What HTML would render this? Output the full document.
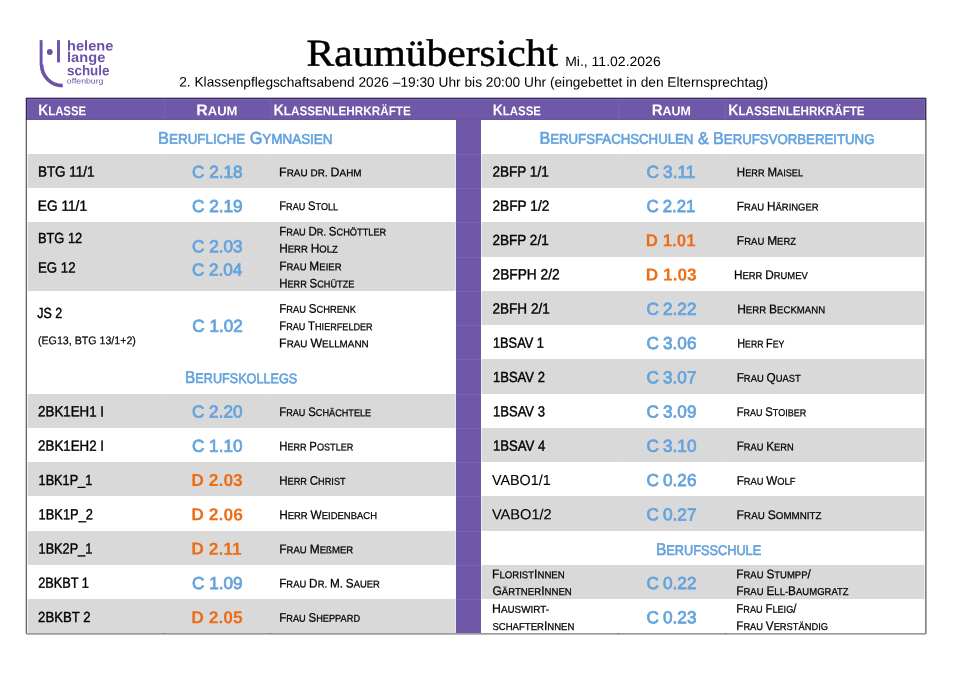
<!DOCTYPE html>
<html lang="de"><head><meta charset="utf-8"><title>Raumübersicht</title><style>
html,body{margin:0;padding:0;background:#fff;}
body{width:960px;height:679px;position:relative;overflow:hidden;font-family:"Liberation Sans",sans-serif;text-rendering:geometricPrecision;}
.b{position:absolute;}
.t{position:absolute;white-space:nowrap;line-height:1;color:#000;transform-origin:0 50%;}
.w,.w0{display:inline-block;text-transform:uppercase;font-size:0.82em;line-height:1;}
.w::first-letter{font-size:1.2195em;}
.k{text-transform:none;}
.h{color:#fff;font-weight:bold;}
.s{color:#64a3dd;-webkit-text-stroke:0.65px #64a3dd;}
.r{-webkit-text-stroke:0.75px currentColor;}
.ro{font-weight:bold;-webkit-text-stroke:0;}
.n{-webkit-text-stroke:0.25px #000;word-spacing:-0.5px;}
.n .w,.n .w0{font-size:0.8em;}
.n .w::first-letter{font-size:1.25em;}
.c{-webkit-text-stroke:0.4px #000;}
.cl{-webkit-text-stroke:0.1px #000;}
.cs{-webkit-text-stroke:0.2px #000;}
.ti{font-family:"Liberation Serif",serif;-webkit-text-stroke:0.5px #000;}
.lg{color:#6b53a8;font-weight:bold;}
.lg2{color:#6b53a8;}
</style></head><body>
<div class="b" style="left:26.00px;top:98.00px;width:900.00px;height:536.00px;background:#fff;"></div>
<div class="b" style="left:26.00px;top:98.00px;width:900.00px;height:21.50px;background:#7058a8;"></div>
<div class="b" style="left:456.00px;top:98.00px;width:25.00px;height:536.00px;background:#7058a8;"></div>
<div class="b" style="left:26.00px;top:153.77px;width:430.00px;height:34.27px;background:#d9d9d9;"></div>
<div class="b" style="left:26.00px;top:222.31px;width:430.00px;height:68.54px;background:#d9d9d9;"></div>
<div class="b" style="left:26.00px;top:393.66px;width:430.00px;height:34.27px;background:#d9d9d9;"></div>
<div class="b" style="left:26.00px;top:462.20px;width:430.00px;height:34.27px;background:#d9d9d9;"></div>
<div class="b" style="left:26.00px;top:530.74px;width:430.00px;height:34.27px;background:#d9d9d9;"></div>
<div class="b" style="left:26.00px;top:599.28px;width:430.00px;height:34.27px;background:#d9d9d9;"></div>
<div class="b" style="left:481.00px;top:153.77px;width:445.00px;height:34.27px;background:#d9d9d9;"></div>
<div class="b" style="left:481.00px;top:222.31px;width:445.00px;height:34.27px;background:#d9d9d9;"></div>
<div class="b" style="left:481.00px;top:290.85px;width:445.00px;height:34.27px;background:#d9d9d9;"></div>
<div class="b" style="left:481.00px;top:359.39px;width:445.00px;height:34.27px;background:#d9d9d9;"></div>
<div class="b" style="left:481.00px;top:427.93px;width:445.00px;height:34.27px;background:#d9d9d9;"></div>
<div class="b" style="left:481.00px;top:496.47px;width:445.00px;height:34.27px;background:#d9d9d9;"></div>
<div class="b" style="left:481.00px;top:565.01px;width:445.00px;height:34.27px;background:#d9d9d9;"></div>
<div class="b" style="left:163.50px;top:119.50px;width:1.00px;height:514.50px;background:rgba(255,255,255,0.09);"></div>
<div class="b" style="left:163.50px;top:98.00px;width:1.00px;height:21.50px;background:rgba(255,255,255,0.07);"></div>
<div class="b" style="left:270.00px;top:119.50px;width:1.00px;height:514.50px;background:rgba(255,255,255,0.09);"></div>
<div class="b" style="left:270.00px;top:98.00px;width:1.00px;height:21.50px;background:rgba(255,255,255,0.07);"></div>
<div class="b" style="left:617.50px;top:119.50px;width:1.00px;height:514.50px;background:rgba(255,255,255,0.09);"></div>
<div class="b" style="left:617.50px;top:98.00px;width:1.00px;height:21.50px;background:rgba(255,255,255,0.07);"></div>
<div class="b" style="left:724.50px;top:119.50px;width:1.00px;height:514.50px;background:rgba(255,255,255,0.09);"></div>
<div class="b" style="left:724.50px;top:98.00px;width:1.00px;height:21.50px;background:rgba(255,255,255,0.07);"></div>
<div class="b" style="left:456.00px;top:153.77px;width:25.00px;height:1.00px;background:rgba(255,255,255,0.08);"></div>
<div class="b" style="left:456.00px;top:188.04px;width:25.00px;height:1.00px;background:rgba(255,255,255,0.08);"></div>
<div class="b" style="left:456.00px;top:222.31px;width:25.00px;height:1.00px;background:rgba(255,255,255,0.08);"></div>
<div class="b" style="left:456.00px;top:256.58px;width:25.00px;height:1.00px;background:rgba(255,255,255,0.08);"></div>
<div class="b" style="left:456.00px;top:290.85px;width:25.00px;height:1.00px;background:rgba(255,255,255,0.08);"></div>
<div class="b" style="left:456.00px;top:325.12px;width:25.00px;height:1.00px;background:rgba(255,255,255,0.08);"></div>
<div class="b" style="left:456.00px;top:359.39px;width:25.00px;height:1.00px;background:rgba(255,255,255,0.08);"></div>
<div class="b" style="left:456.00px;top:393.66px;width:25.00px;height:1.00px;background:rgba(255,255,255,0.08);"></div>
<div class="b" style="left:456.00px;top:427.93px;width:25.00px;height:1.00px;background:rgba(255,255,255,0.08);"></div>
<div class="b" style="left:456.00px;top:462.20px;width:25.00px;height:1.00px;background:rgba(255,255,255,0.08);"></div>
<div class="b" style="left:456.00px;top:496.47px;width:25.00px;height:1.00px;background:rgba(255,255,255,0.08);"></div>
<div class="b" style="left:456.00px;top:530.74px;width:25.00px;height:1.00px;background:rgba(255,255,255,0.08);"></div>
<div class="b" style="left:456.00px;top:565.01px;width:25.00px;height:1.00px;background:rgba(255,255,255,0.08);"></div>
<div class="b" style="left:456.00px;top:599.28px;width:25.00px;height:1.00px;background:rgba(255,255,255,0.08);"></div>
<div class="b" style="left:481.00px;top:119.50px;width:1.00px;height:514.50px;background:rgba(255,255,255,0.55);"></div>
<div class="b" style="left:455.00px;top:119.50px;width:1.00px;height:514.50px;background:rgba(255,255,255,0.35);"></div>
<div class="b" style="left:26.00px;top:97.00px;width:900.00px;height:1.00px;background:#b9b9bd;"></div>
<div class="b" style="left:26.00px;top:98.00px;width:900.00px;height:1.00px;background:#3a2e66;"></div>
<div class="b" style="left:26.00px;top:99.00px;width:900.00px;height:1.00px;background:#7a64b6;"></div>
<div class="b" style="left:26.00px;top:118.50px;width:900.00px;height:1.00px;background:#6a53a2;"></div>
<div class="b" style="left:26.00px;top:98.00px;width:1.00px;height:536.00px;background:#6a6a6a;"></div>
<div class="b" style="left:25.00px;top:98.00px;width:1.00px;height:536.00px;background:#cacaca;"></div>
<div class="b" style="left:27.00px;top:119.50px;width:1.00px;height:513.50px;background:rgba(255,255,255,0.6);"></div>
<div class="b" style="left:26.00px;top:98.00px;width:1.00px;height:21.50px;background:#2c2352;"></div>
<div class="b" style="left:925.00px;top:98.00px;width:1.00px;height:536.00px;background:#858585;"></div>
<div class="b" style="left:924.00px;top:119.50px;width:1.00px;height:513.50px;background:rgba(255,255,255,0.5);"></div>
<div class="b" style="left:925.00px;top:98.00px;width:1.00px;height:21.50px;background:#3a2e66;"></div>
<div class="b" style="left:924.00px;top:99.00px;width:1.00px;height:19.50px;background:#7a64b6;"></div>
<div class="b" style="left:27.00px;top:99.00px;width:1.00px;height:19.50px;background:#7a64b6;"></div>
<div class="b" style="left:926.00px;top:98.00px;width:1.00px;height:536.00px;background:#ababab;"></div>
<div class="b" style="left:26.00px;top:633.00px;width:900.00px;height:1.00px;background:#9c9c9c;"></div>
<div class="b" style="left:26.00px;top:634.00px;width:900.00px;height:1.00px;background:#b8b8b8;"></div>
<div class="b" style="left:163.50px;top:633.00px;width:1.00px;height:1.00px;background:#6a6a6a;"></div>
<div class="b" style="left:270.00px;top:633.00px;width:1.00px;height:1.00px;background:#6a6a6a;"></div>
<div class="b" style="left:617.50px;top:633.00px;width:1.00px;height:1.00px;background:#6a6a6a;"></div>
<div class="b" style="left:724.50px;top:633.00px;width:1.00px;height:1.00px;background:#6a6a6a;"></div>
<div class="t h" style="left:38px;top:103px;font-size:15.6px;transform:matrix(0.8905,0.0005,0,1,0.16,0.20);"><span class="w">Klasse</span></div>
<div class="t h" style="left:196px;top:103px;font-size:15.6px;transform:matrix(1.0188,0.0005,0,1,0.32,0.20);"><span class="w">Raum</span></div>
<div class="t h" style="left:273px;top:103px;font-size:15.6px;transform:matrix(0.9176,0.0005,0,1,0.43,0.20);"><span class="w">Klassenlehrkräfte</span></div>
<div class="t h" style="left:492px;top:103px;font-size:15.6px;transform:matrix(0.8962,0.0005,0,1,0.65,0.20);"><span class="w">Klasse</span></div>
<div class="t h" style="left:651px;top:103px;font-size:15.6px;transform:matrix(0.9720,0.0005,0,1,0.67,0.20);"><span class="w">Raum</span></div>
<div class="t h" style="left:728px;top:103px;font-size:15.6px;transform:matrix(0.9108,0.0005,0,1,0.24,0.20);"><span class="w">Klassenlehrkräfte</span></div>
<div class="t s" style="left:158px;top:129px;font-size:17.1px;transform:matrix(0.9574,0.0005,0,1,0.12,0.80);"><span class="w">Berufliche</span> <span class="w">Gymnasien</span></div>
<div class="t s" style="left:185px;top:369px;font-size:17.1px;transform:matrix(0.9012,0.0005,0,1,0.08,0.10);"><span class="w">Berufskollegs</span></div>
<div class="t s" style="left:539px;top:129px;font-size:17.1px;transform:matrix(0.9430,0.0005,0,1,0.44,0.80);"><span class="w">Berufsfachschulen</span> <span class="f">&amp;</span> <span class="w">Berufsvorbereitung</span></div>
<div class="t s" style="left:655px;top:541px;font-size:17.1px;transform:matrix(0.9089,0.0005,0,1,0.97,0.00);"><span class="w">Berufsschule</span></div>
<div class="t c" style="left:37px;top:165px;font-size:14.6px;transform:matrix(0.9243,0.0005,0,1,0.88,0.46);">BTG 11/1</div>
<div class="t c" style="left:37px;top:199px;font-size:14.6px;transform:matrix(0.9366,0.0005,0,1,0.87,0.73);">EG 11/1</div>
<div class="t c" style="left:37px;top:232px;font-size:14.6px;transform:matrix(0.8809,0.0005,0,1,0.93,0.10);">BTG 12</div>
<div class="t c" style="left:37px;top:261px;font-size:14.6px;transform:matrix(0.9093,0.0005,0,1,0.90,0.50);">EG 12</div>
<div class="t c" style="left:37px;top:307px;font-size:14.6px;transform:matrix(0.8552,0.0005,0,1,0.31,0.10);">JS 2</div>
<div class="t c cs" style="left:37px;top:336px;font-size:11.2px;transform:matrix(0.9517,0.0005,0,1,0.95,0.30);">(EG13, BTG 13/1+2)</div>
<div class="t c" style="left:38px;top:405px;font-size:14.6px;transform:matrix(0.9134,0.0005,0,1,0.11,0.35);">2BK1EH1 I</div>
<div class="t c" style="left:38px;top:439px;font-size:14.6px;transform:matrix(0.9134,0.0005,0,1,0.11,0.62);">2BK1EH2 I</div>
<div class="t c" style="left:38px;top:473px;font-size:14.6px;transform:matrix(0.8701,0.0005,0,1,0.57,0.88);">1BK1P_1</div>
<div class="t c" style="left:38px;top:508px;font-size:14.6px;transform:matrix(0.8821,0.0005,0,1,0.56,0.15);">1BK1P_2</div>
<div class="t c" style="left:38px;top:542px;font-size:14.6px;transform:matrix(0.8701,0.0005,0,1,0.57,0.42);">1BK2P_1</div>
<div class="t c" style="left:38px;top:576px;font-size:14.6px;transform:matrix(0.8736,0.0005,0,1,0.13,0.69);">2BKBT 1</div>
<div class="t c" style="left:38px;top:610px;font-size:14.6px;transform:matrix(0.9001,0.0005,0,1,0.12,0.96);">2BKBT 2</div>
<div class="t r" style="left:191px;top:163px;font-size:17.3px;transform:matrix(0.9934,0.0005,0,1,0.99,0.65);color:#64a3dd;">C 2.18</div>
<div class="t r" style="left:191px;top:197px;font-size:17.3px;transform:matrix(0.9947,0.0005,0,1,0.99,0.93);color:#64a3dd;">C 2.19</div>
<div class="t r" style="left:191px;top:238px;font-size:17.3px;transform:matrix(0.9934,0.0005,0,1,0.99,0.25);color:#64a3dd;">C 2.03</div>
<div class="t r" style="left:191px;top:261px;font-size:17.3px;transform:matrix(0.9860,0.0005,0,1,0.99,0.55);color:#64a3dd;">C 2.04</div>
<div class="t r" style="left:192px;top:317px;font-size:17.3px;transform:matrix(0.9892,0.0005,0,1,0.29,0.85);color:#64a3dd;">C 1.02</div>
<div class="t r" style="left:191px;top:403px;font-size:17.3px;transform:matrix(0.9911,0.0005,0,1,0.99,0.55);color:#64a3dd;">C 2.20</div>
<div class="t r" style="left:191px;top:437px;font-size:17.3px;transform:matrix(0.9911,0.0005,0,1,0.99,0.82);color:#64a3dd;">C 1.10</div>
<div class="t r ro" style="left:191px;top:472px;font-size:17.3px;transform:matrix(1.0122,0.0005,0,1,0.31,0.09);color:#ee6c14;">D 2.03</div>
<div class="t r ro" style="left:191px;top:506px;font-size:17.3px;transform:matrix(1.0127,0.0005,0,1,0.31,0.36);color:#ee6c14;">D 2.06</div>
<div class="t r ro" style="left:191px;top:540px;font-size:17.3px;transform:matrix(1.0084,0.0005,0,1,0.31,0.62);color:#ee6c14;">D 2.11</div>
<div class="t r" style="left:191px;top:574px;font-size:17.3px;transform:matrix(0.9947,0.0005,0,1,0.99,0.89);color:#64a3dd;">C 1.09</div>
<div class="t r ro" style="left:191px;top:609px;font-size:17.3px;transform:matrix(1.0101,0.0005,0,1,0.31,0.16);color:#ee6c14;">D 2.05</div>
<div class="t n" style="left:279px;top:166px;font-size:12.5px;transform:matrix(0.9911,0.0005,0,1,0.10,0.20);"><span class="w">Frau</span> <span class="w0">dr.</span> <span class="w">Dahm</span></div>
<div class="t n" style="left:279px;top:200px;font-size:12.5px;transform:matrix(0.9060,0.0005,0,1,0.18,0.10);"><span class="w">Frau</span> <span class="w">Stoll</span></div>
<div class="t n" style="left:279px;top:225px;font-size:12.5px;transform:matrix(0.9229,0.0005,0,1,0.16,0.50);"><span class="w">Frau</span> <span class="w">Dr.</span> <span class="w">Schöttler</span></div>
<div class="t n" style="left:279px;top:242px;font-size:12.5px;transform:matrix(0.9530,0.0005,0,1,0.14,0.60);"><span class="w">Herr</span> <span class="w">Holz</span></div>
<div class="t n" style="left:279px;top:260px;font-size:12.5px;transform:matrix(0.9519,0.0005,0,1,0.14,0.30);"><span class="w">Frau</span> <span class="w">Meier</span></div>
<div class="t n" style="left:279px;top:277px;font-size:12.5px;transform:matrix(0.9173,0.0005,0,1,0.17,0.40);"><span class="w">Herr</span> <span class="w">Schütze</span></div>
<div class="t n" style="left:279px;top:302px;font-size:12.5px;transform:matrix(0.9333,0.0005,0,1,0.16,0.80);"><span class="w">Frau</span> <span class="w">Schrenk</span></div>
<div class="t n" style="left:279px;top:320px;font-size:12.5px;transform:matrix(0.9100,0.0005,0,1,0.18,0.10);"><span class="w">Frau</span> <span class="w">Thierfelder</span></div>
<div class="t n" style="left:279px;top:337px;font-size:12.5px;transform:matrix(0.9862,0.0005,0,1,0.11,0.20);"><span class="w">Frau</span> <span class="w">Wellmann</span></div>
<div class="t n" style="left:279px;top:406px;font-size:12.5px;transform:matrix(0.9145,0.0005,0,1,0.17,0.10);"><span class="w">Frau</span> <span class="w">Schächtele</span></div>
<div class="t n" style="left:279px;top:440px;font-size:12.5px;transform:matrix(0.9104,0.0005,0,1,0.18,0.37);"><span class="w">Herr</span> <span class="w">Postler</span></div>
<div class="t n" style="left:279px;top:474px;font-size:12.5px;transform:matrix(0.9217,0.0005,0,1,0.17,0.63);"><span class="w">Herr</span> <span class="w">Christ</span></div>
<div class="t n" style="left:279px;top:508px;font-size:12.5px;transform:matrix(0.9474,0.0005,0,1,0.14,0.90);"><span class="w">Herr</span> <span class="w">Weidenbach</span></div>
<div class="t n" style="left:279px;top:543px;font-size:12.5px;transform:matrix(0.9606,0.0005,0,1,0.13,0.17);"><span class="w">Frau</span> <span class="w">Me<span class="k">ß</span>mer</span></div>
<div class="t n" style="left:279px;top:577px;font-size:12.5px;transform:matrix(0.9438,0.0005,0,1,0.14,0.44);"><span class="w">Frau</span> <span class="w">Dr.</span> <span class="f">M.</span> <span class="w">Sauer</span></div>
<div class="t n" style="left:279px;top:611px;font-size:12.5px;transform:matrix(0.9224,0.0005,0,1,0.17,0.71);"><span class="w">Frau</span> <span class="w">Sheppard</span></div>
<div class="t c" style="left:492px;top:165px;font-size:14.6px;transform:matrix(0.9275,0.0005,0,1,0.50,0.46);">2BFP 1/1</div>
<div class="t r" style="left:646px;top:163px;font-size:17.3px;transform:matrix(0.9957,0.0005,0,1,0.48,0.65);color:#64a3dd;word-spacing:-0.6px;">C 3.11</div>
<div class="t n" style="left:736px;top:166px;font-size:12.5px;transform:matrix(0.9212,0.0005,0,1,0.87,0.21);"><span class="w">Herr</span> <span class="w">Maisel</span></div>
<div class="t c" style="left:492px;top:199px;font-size:14.6px;transform:matrix(0.9378,0.0005,0,1,0.50,0.73);">2BFP 1/2</div>
<div class="t r" style="left:646px;top:197px;font-size:17.3px;transform:matrix(0.9724,0.0005,0,1,0.50,0.93);color:#64a3dd;word-spacing:-0.6px;">C 2.21</div>
<div class="t n" style="left:736px;top:200px;font-size:12.5px;transform:matrix(0.9473,0.0005,0,1,0.84,0.48);"><span class="w">Frau</span> <span class="w">Häringer</span></div>
<div class="t c" style="left:492px;top:233px;font-size:14.6px;transform:matrix(0.9275,0.0005,0,1,0.50,1.00);">2BFP 2/1</div>
<div class="t r ro" style="left:645px;top:232px;font-size:17.3px;transform:matrix(0.9757,0.0005,0,1,0.85,0.19);color:#ee6c14;">D 1.01</div>
<div class="t n" style="left:736px;top:234px;font-size:12.5px;transform:matrix(0.9544,0.0005,0,1,0.84,0.75);"><span class="w">Frau</span> <span class="w">Merz</span></div>
<div class="t c" style="left:492px;top:268px;font-size:14.6px;transform:matrix(0.9407,0.0005,0,1,0.50,0.27);">2BFPH 2/2</div>
<div class="t r ro" style="left:645px;top:266px;font-size:17.3px;transform:matrix(0.9999,0.0005,0,1,0.82,0.47);color:#ee6c14;">D 1.03</div>
<div class="t n" style="left:733px;top:269px;font-size:12.5px;transform:matrix(0.9425,0.0005,0,1,0.95,0.02);"><span class="w">Herr</span> <span class="w">Drumev</span></div>
<div class="t c" style="left:492px;top:302px;font-size:14.6px;transform:matrix(0.9287,0.0005,0,1,0.50,0.54);">2BFH 2/1</div>
<div class="t r" style="left:646px;top:300px;font-size:17.3px;transform:matrix(0.9928,0.0005,0,1,0.49,0.74);color:#64a3dd;word-spacing:-0.6px;">C 2.22</div>
<div class="t n" style="left:737px;top:303px;font-size:12.5px;transform:matrix(0.9619,0.0005,0,1,0.13,0.29);"><span class="w">Herr</span> <span class="w">Beckmann</span></div>
<div class="t c" style="left:492px;top:336px;font-size:14.6px;transform:matrix(0.8764,0.0005,0,1,0.97,0.81);">1BSAV 1</div>
<div class="t r" style="left:646px;top:335px;font-size:17.3px;transform:matrix(0.9930,0.0005,0,1,0.49,0.00);color:#64a3dd;word-spacing:-0.6px;">C 3.06</div>
<div class="t n" style="left:737px;top:337px;font-size:12.5px;transform:matrix(0.8704,0.0005,0,1,0.21,0.56);"><span class="w">Herr</span> <span class="w">Fey</span></div>
<div class="t c" style="left:492px;top:371px;font-size:14.6px;transform:matrix(0.8944,0.0005,0,1,0.95,0.08);">1BSAV 2</div>
<div class="t r" style="left:646px;top:369px;font-size:17.3px;transform:matrix(0.9925,0.0005,0,1,0.49,0.27);color:#64a3dd;word-spacing:-0.6px;">C 3.07</div>
<div class="t n" style="left:736px;top:371px;font-size:12.5px;transform:matrix(0.9405,0.0005,0,1,0.65,0.83);"><span class="w">Frau</span> <span class="w">Quast</span></div>
<div class="t c" style="left:492px;top:405px;font-size:14.6px;transform:matrix(0.8946,0.0005,0,1,0.95,0.35);">1BSAV 3</div>
<div class="t r" style="left:646px;top:403px;font-size:17.3px;transform:matrix(0.9931,0.0005,0,1,0.49,0.55);color:#64a3dd;word-spacing:-0.6px;">C 3.09</div>
<div class="t n" style="left:736px;top:406px;font-size:12.5px;transform:matrix(0.9012,0.0005,0,1,0.69,0.10);"><span class="w">Frau</span> <span class="w">Stoiber</span></div>
<div class="t c" style="left:492px;top:439px;font-size:14.6px;transform:matrix(0.9005,0.0005,0,1,0.94,0.62);">1BSAV 4</div>
<div class="t r" style="left:646px;top:437px;font-size:17.3px;transform:matrix(0.9924,0.0005,0,1,0.49,0.82);color:#64a3dd;word-spacing:-0.6px;">C 3.10</div>
<div class="t n" style="left:736px;top:440px;font-size:12.5px;transform:matrix(0.9337,0.0005,0,1,0.66,0.37);"><span class="w">Frau</span> <span class="w">Kern</span></div>
<div class="t c cl" style="left:491px;top:473px;font-size:14.6px;transform:matrix(0.9840,0.0005,0,1,0.91,0.88);">VABO1/1</div>
<div class="t r" style="left:646px;top:472px;font-size:17.3px;transform:matrix(0.9930,0.0005,0,1,0.49,0.09);color:#64a3dd;word-spacing:-0.6px;">C 0.26</div>
<div class="t n" style="left:736px;top:474px;font-size:12.5px;transform:matrix(0.9343,0.0005,0,1,0.65,0.63);"><span class="w">Frau</span> <span class="w">Wolf</span></div>
<div class="t c cl" style="left:491px;top:508px;font-size:14.6px;transform:matrix(1.0016,0.0005,0,1,0.90,0.15);">VABO1/2</div>
<div class="t r" style="left:646px;top:506px;font-size:17.3px;transform:matrix(0.9925,0.0005,0,1,0.49,0.36);color:#64a3dd;word-spacing:-0.6px;">C 0.27</div>
<div class="t n" style="left:736px;top:508px;font-size:12.5px;transform:matrix(0.9776,0.0005,0,1,0.62,0.90);"><span class="w">Frau</span> <span class="w">Sommnitz</span></div>
<div class="t n" style="left:492px;top:568px;font-size:12.5px;transform:matrix(0.9618,0.0005,0,1,0.03,0.25);"><span class="w">Florist</span><span class="w">Innen</span></div>
<div class="t n" style="left:492px;top:584px;font-size:12.5px;transform:matrix(0.9616,0.0005,0,1,0.41,0.90);"><span class="w">Gärtner</span><span class="w">Innen</span></div>
<div class="t n" style="left:492px;top:602px;font-size:12.5px;transform:matrix(0.9865,0.0005,0,1,0.01,0.80);"><span class="w">Hauswirt-</span></div>
<div class="t n" style="left:492px;top:619px;font-size:12.5px;transform:matrix(0.9561,0.0005,0,1,0.40,0.90);"><span class="w0">schafter</span><span class="w">Innen</span></div>
<div class="t r" style="left:646px;top:574px;font-size:17.3px;transform:matrix(0.9928,0.0005,0,1,0.49,0.89);color:#64a3dd;word-spacing:-0.6px;">C 0.22</div>
<div class="t r" style="left:646px;top:609px;font-size:17.3px;transform:matrix(0.9928,0.0005,0,1,0.49,0.16);color:#64a3dd;word-spacing:-0.6px;">C 0.23</div>
<div class="t n" style="left:736px;top:568px;font-size:12.5px;transform:matrix(0.9494,0.0005,0,1,0.24,0.25);"><span class="w">Frau</span> <span class="w">Stumpp</span><span class="f">/</span></div>
<div class="t n" style="left:736px;top:584px;font-size:12.5px;transform:matrix(0.9506,0.0005,0,1,0.24,0.90);"><span class="w">Frau</span> <span class="w">Ell-</span><span class="w">Baumgratz</span></div>
<div class="t n" style="left:736px;top:602px;font-size:12.5px;transform:matrix(0.9169,0.0005,0,1,0.27,0.80);"><span class="w">Frau</span> <span class="w">Fleig</span><span class="f">/</span></div>
<div class="t n" style="left:736px;top:619px;font-size:12.5px;transform:matrix(0.9324,0.0005,0,1,0.26,0.90);"><span class="w">Frau</span> <span class="w">Verständig</span></div>
<div class="t ti" style="left:306px;top:34px;font-size:38.3px;transform:matrix(1.0850,0.0005,0,1,0.47,0.70);">Raumübersicht</div>
<div class="t a" style="left:565px;top:54px;font-size:13.6px;transform:matrix(1.0308,0.0005,0,1,0.14,0.90);">Mi., 11.02.2026</div>
<div class="t a" style="left:179px;top:75px;font-size:13.69px;transform:matrix(1.0024,0.0005,0,1,0.19,0.60);">2. Klassenpflegschaftsabend 2026 –19:30 Uhr bis 20:00 Uhr (eingebettet in den Elternsprechtag)</div>
<div class="t lg" style="left:67px;top:38px;font-size:14px;transform:matrix(1.0431,0.0005,0,1,0.06,0.40);">helene</div>
<div class="t lg" style="left:67px;top:50px;font-size:14px;transform:matrix(1.0454,0.0005,0,1,0.05,0.10);">lange</div>
<div class="t lg" style="left:66px;top:63px;font-size:14px;transform:matrix(0.9620,0.0005,0,1,0.90,0.20);">schule</div>
<div class="t lg2" style="left:66px;top:77px;font-size:7.5px;transform:matrix(1.1593,0.0005,0,1,0.82,0.40);">offenburg</div>
<svg class="b" style="left:30px;top:30px" width="100" height="65" viewBox="30 30 100 65">
<path d="M41.1 40.1 V65" fill="none" stroke="#6b53a8" stroke-width="2.9"/>
<path d="M41.6 64.5 A21.1 21 0 0 0 62.7 85.6" fill="none" stroke="#6b53a8" stroke-width="3.6"/>
<path d="M58.5 40.1 V62.4" fill="none" stroke="#6b53a8" stroke-width="2.9"/>
<circle cx="49.8" cy="52" r="2.9" fill="#6b53a8"/>
</svg>
</body></html>
